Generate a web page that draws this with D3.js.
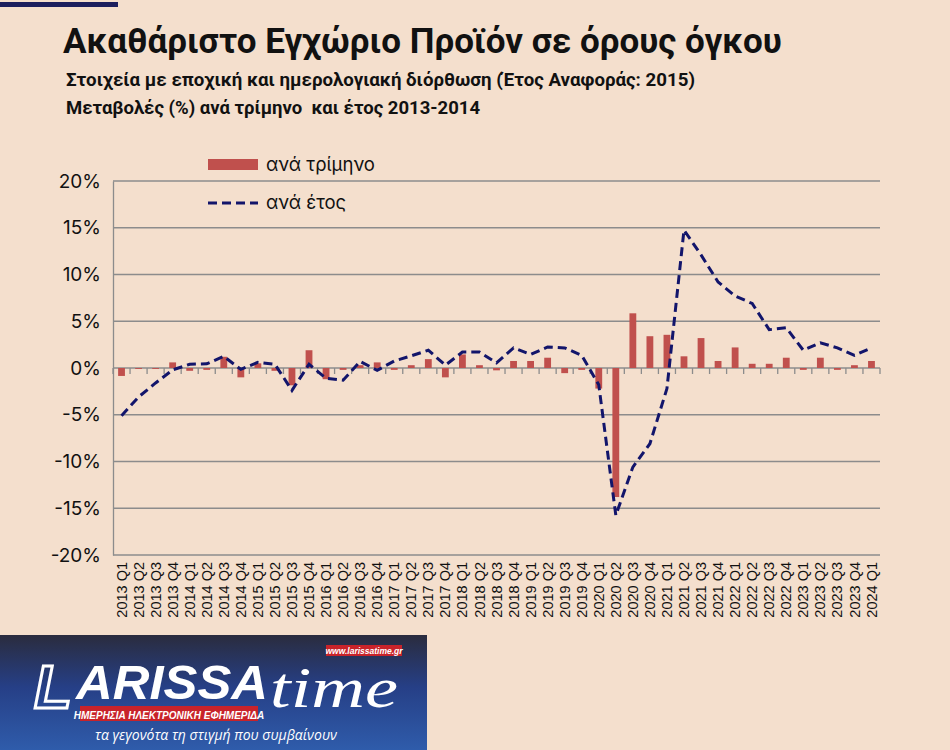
<!DOCTYPE html>
<html>
<head>
<meta charset="utf-8">
<script src="https://cdn.jsdelivr.net/npm/d3@7"></script>
<style>
  body { margin: 0; background: #f4dfcd; }
  svg { display: block; }
</style>
</head>
<body>
<div id="chart"></div>
<script>
// Chart data
var quarters = [
    "2013 Q1","2013 Q2","2013 Q3","2013 Q4",
    "2014 Q1","2014 Q2","2014 Q3","2014 Q4",
    "2015 Q1","2015 Q2","2015 Q3","2015 Q4",
    "2016 Q1","2016 Q2","2016 Q3","2016 Q4",
    "2017 Q1","2017 Q2","2017 Q3","2017 Q4",
    "2018 Q1","2018 Q2","2018 Q3","2018 Q4",
    "2019 Q1","2019 Q2","2019 Q3","2019 Q4",
    "2020 Q1","2020 Q2","2020 Q3","2020 Q4",
    "2021 Q1","2021 Q2","2021 Q3","2021 Q4",
    "2022 Q1","2022 Q2","2022 Q3","2022 Q4",
    "2023 Q1","2023 Q2","2023 Q3","2023 Q4",
    "2024 Q1"
];
// quarter-on-quarter change (%)
var qoq = [
    -0.85, -0.1, -0.1, 0.6,
    -0.3, -0.2, 1.2, -1.0,
    0.5, -0.3, -1.85, 1.9,
    -1.2, -0.2, 0.3, 0.6,
    -0.2, 0.3, 0.95, -1.0,
    1.45, 0.3, -0.25, 0.75,
    0.75, 1.1, -0.55, -0.2,
    -2.2, -13.8, 5.85, 3.4,
    3.55, 1.25, 3.2, 0.75,
    2.2, 0.45, 0.45, 1.1,
    -0.2, 1.1, -0.2, 0.3,
    0.75
];
// year-on-year change (%)
var yoy = [
    -5.1, -3.1, -1.6, -0.2,
    0.4, 0.45, 1.25, -0.15,
    0.6, 0.4, -2.4, 0.4,
    -1.1, -1.3, 0.7, -0.25,
    0.75, 1.3, 1.9, 0.3,
    1.7, 1.7, 0.55, 2.15,
    1.45, 2.25, 2.15, 1.35,
    -1.8, -15.75, -10.6, -8.1,
    -2.2, 14.75, 12.1, 9.2,
    7.7, 6.9, 4.1, 4.3,
    1.9, 2.7, 2.15, 1.35,
    2.15
];
var yTicks = [-20, -15, -10, -5, 0, 5, 10, 15, 20];

var svgWdt = 950;
var svgHgt = 750;

var svg = d3.select("#chart").append("svg")
    .attr("width", svgWdt)
    .attr("height", svgHgt);

svg.append("rect")
    .attr("width", svgWdt).attr("height", svgHgt)
    .attr("fill", "#f4dfcd");

// top accent bar
svg.append("rect")
    .attr("x", 0).attr("y", 2)
    .attr("width", 118).attr("height", 5)
    .attr("fill", "#1c1f5e");

// Titles
svg.append("text")
    .attr("x", 63).attr("y", 53)
    .attr("font-family", "Roboto, 'Noto Sans', sans-serif")
    .attr("font-weight", "bold")
    .attr("font-size", 35)
    .attr("fill", "#111")
    .text("Ακαθάριστο Εγχώριο Προϊόν σε όρους όγκου");

svg.append("text")
    .attr("x", 66).attr("y", 86)
    .attr("font-family", "Roboto, 'Noto Sans', sans-serif")
    .attr("font-weight", "bold")
    .attr("font-size", 18.7)
    .attr("fill", "#111")
    .text("Στοιχεία με εποχική και ημερολογιακή διόρθωση (Έτος Αναφοράς: 2015)");

svg.append("text")
    .attr("x", 66).attr("y", 114)
    .attr("font-family", "Roboto, 'Noto Sans', sans-serif")
    .attr("font-weight", "bold")
    .attr("font-size", 18.5)
    .attr("fill", "#111")
    .style("white-space", "pre")
    .text("Μεταβολές (%) ανά τρίμηνο  και έτος 2013-2014");

// Scales
var x = d3.scaleBand().domain(quarters).range([113, 880]).paddingInner(0.6).paddingOuter(0.3);
var xPoint = d => x(d) + x.bandwidth() / 2;
var y = d3.scaleLinear().domain([-20, 20]).range([555, 181]);

var plot = svg.append("g");

// Gridlines
plot.selectAll(".grid").data(yTicks).enter()
    .append("line")
    .attr("x1", 113).attr("x2", 880)
    .attr("y1", d => y(d)).attr("y2", d => y(d))
    .attr("stroke", "#8c8c8c")
    .attr("stroke-width", 1.3);

// Left axis
var leftAx = d3.axisLeft(y).tickValues(yTicks).tickSize(0).tickPadding(12)
    .tickFormat(d => d + "%");
var yAxis = plot.append("g")
    .attr("transform", "translate(113,0)")
    .call(leftAx);
yAxis.select(".domain").attr("stroke", "#8c8c8c").attr("stroke-width", 1.3);
yAxis.selectAll("text")
    .attr("font-family", "Inter, 'Liberation Sans', sans-serif")
    .attr("font-size", 19)
    .attr("fill", "#111");

// Ticks on the zero line at category boundaries
var bounds = d3.range(quarters.length + 1).map(i => 113 + i * (767 / quarters.length));
plot.selectAll(".zt").data(bounds).enter()
    .append("line")
    .attr("x1", d => d).attr("x2", d => d)
    .attr("y1", y(0)).attr("y2", y(0) + 6)
    .attr("stroke", "#8c8c8c")
    .attr("stroke-width", 1.3);

// Bars
plot.selectAll(".bar").data(qoq).enter()
    .append("rect")
    .attr("x", (d, i) => x(quarters[i]))
    .attr("y", d => y(Math.max(0, d)))
    .attr("width", x.bandwidth())
    .attr("height", d => Math.abs(y(d) - y(0)))
    .attr("fill", "#c0504d");

// Line
var line = d3.line()
    .x((d, i) => xPoint(quarters[i]))
    .y(d => y(d));
plot.append("path")
    .datum(yoy)
    .attr("d", line)
    .attr("fill", "none")
    .attr("stroke", "#12156b")
    .attr("stroke-width", 3)
    .attr("stroke-dasharray", "9,5");

// Category labels (rotated)
var botAx = d3.axisBottom(x).tickSize(0).tickPadding(0);
var xAxis = plot.append("g")
    .attr("transform", "translate(0,555)")
    .call(botAx);
xAxis.select(".domain").remove();
xAxis.selectAll("text")
    .attr("font-family", "'Liberation Sans', Arial, sans-serif")
    .attr("font-size", 14.5)
    .attr("fill", "#111")
    .attr("text-anchor", "end")
    .attr("dy", "0.35em")
    .attr("transform", "translate(0,7) rotate(-90)");

// Legend
var leg = svg.append("g");
leg.append("rect")
    .attr("x", 208).attr("y", 159)
    .attr("width", 50).attr("height", 11)
    .attr("fill", "#c0504d");
leg.append("text")
    .attr("x", 266).attr("y", 171)
    .attr("font-family", "Inter, 'Liberation Sans', sans-serif")
    .attr("font-size", 18.5)
    .attr("fill", "#111")
    .text("ανά τρίμηνο");
leg.append("line")
    .attr("x1", 208).attr("x2", 258)
    .attr("y1", 203).attr("y2", 203)
    .attr("stroke", "#12156b")
    .attr("stroke-width", 3)
    .attr("stroke-dasharray", "9,5");
leg.append("text")
    .attr("x", 266).attr("y", 209)
    .attr("font-family", "Inter, 'Liberation Sans', sans-serif")
    .attr("font-size", 18.5)
    .attr("fill", "#111")
    .text("ανά έτος");

// Logo block
var defs = svg.append("defs");
var grad = defs.append("linearGradient")
    .attr("id", "logoGrad")
    .attr("x1", 0).attr("y1", 0).attr("x2", 0).attr("y2", 1);
grad.append("stop").attr("offset", "0%").attr("stop-color", "#2a2c3e");
grad.append("stop").attr("offset", "45%").attr("stop-color", "#263f86");
grad.append("stop").attr("offset", "100%").attr("stop-color", "#2f5cab");

var logo = svg.append("g");
logo.append("rect")
    .attr("x", 0).attr("y", 635)
    .attr("width", 427).attr("height", 115)
    .attr("fill", "url(#logoGrad)");
logo.append("text")
    .attr("x", 34).attr("y", 708)
    .attr("font-family", "'Liberation Sans', Arial, sans-serif")
    .attr("font-weight", "bold")
    .attr("font-style", "italic")
    .attr("font-size", 62)
    .attr("fill", "none")
    .attr("stroke", "#fff")
    .attr("stroke-width", 3)
    .text("L");
logo.append("text")
    .attr("x", 76).attr("y", 699)
    .attr("font-family", "'Liberation Sans', Arial, sans-serif")
    .attr("font-weight", "bold")
    .attr("font-style", "italic")
    .attr("font-size", 48)
    .attr("fill", "#fff")
    .attr("textLength", 192)
    .attr("lengthAdjust", "spacingAndGlyphs")
    .text("ARISSA");
logo.append("text")
    .attr("x", 270).attr("y", 707)
    .attr("font-family", "'Liberation Serif', 'DejaVu Serif', serif")
    .attr("font-style", "italic")
    .attr("font-size", 56)
    .attr("fill", "#fff")
    .attr("textLength", 128)
    .attr("lengthAdjust", "spacingAndGlyphs")
    .text("time");
logo.append("rect")
    .attr("x", 326).attr("y", 645)
    .attr("width", 76).attr("height", 11)
    .attr("fill", "#c8232a");
logo.append("text")
    .attr("x", 364).attr("y", 653.5)
    .attr("text-anchor", "middle")
    .attr("font-family", "'Liberation Sans', Arial, sans-serif")
    .attr("font-weight", "bold")
    .attr("font-style", "italic")
    .attr("font-size", 8.5)
    .attr("fill", "#fff")
    .text("www.larissatime.gr");
logo.append("rect")
    .attr("x", 80).attr("y", 706)
    .attr("width", 178).attr("height", 15)
    .attr("fill", "#c8232a");
logo.append("text")
    .attr("x", 169).attr("y", 718.5)
    .attr("text-anchor", "middle")
    .attr("font-family", "'Liberation Sans', Arial, sans-serif")
    .attr("font-weight", "bold")
    .attr("font-style", "italic")
    .attr("font-size", 10)
    .attr("fill", "#fff")
    .text("ΗΜΕΡΗΣΙΑ ΗΛΕΚΤΡΟΝΙΚΗ ΕΦΗΜΕΡΙΔΑ");
logo.append("text")
    .attr("x", 216).attr("y", 740)
    .attr("text-anchor", "middle")
    .attr("font-family", "'Open Sans', 'Noto Sans', sans-serif")
    .attr("font-style", "italic")
    .attr("font-size", 14)
    .attr("fill", "#fff")
    .text("τα γεγονότα τη στιγμή που συμβαίνουν");
</script>
</body>
</html>
